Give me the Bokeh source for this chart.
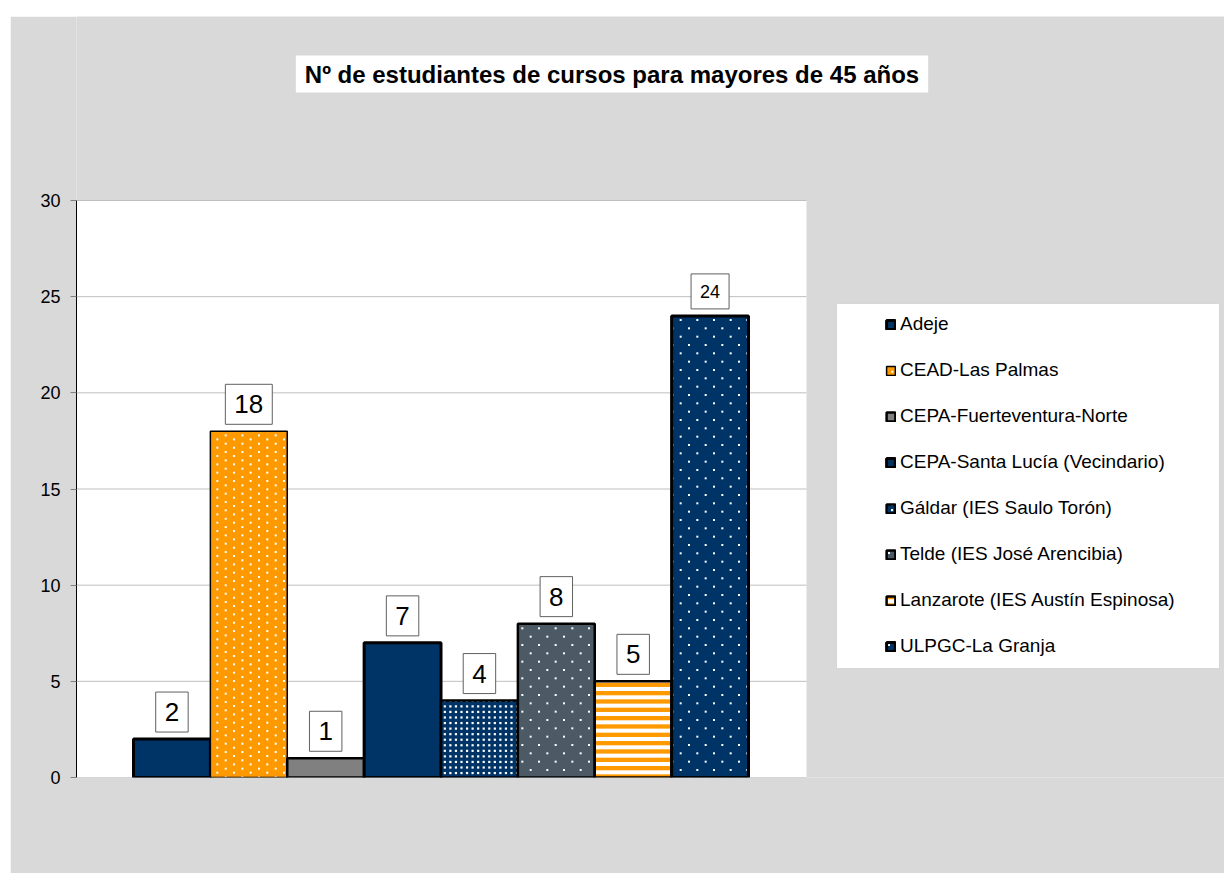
import base64
from bokeh.plotting import figure
from bokeh.models import (ColumnDataSource, Range1d, Legend, LegendItem, Label,
                          BoxAnnotation, FixedTicker, ImageURLTexture)
from bokeh.core.properties import value
from bokeh.embed import file_html
from bokeh.resources import INLINE

# ---------------- data ----------------
title_text = "Nº de estudiantes de cursos para mayores de 45 años"
categories = [
    "Adeje",
    "CEAD-Las Palmas",
    "CEPA-Fuerteventura-Norte",
    "CEPA-Santa Lucía (Vecindario)",
    "Gáldar (IES Saulo Torón)",
    "Telde (IES José Arencibia)",
    "Lanzarote (IES Austín Espinosa)",
    "ULPGC-La Granja",
]
values = [2, 18, 1, 7, 4, 8, 5, 24]
y_ticks = [0, 5, 10, 15, 20, 25, 30]

# ---------------- styles ----------------
FONT = "Liberation Sans"
NAVY = "#003366"
ORANGE = "#FF9900"
SLATE = "#4C5A65"
GRAY = "#808080"
BG = "#D9D9D9"


def svg_tile(w, h, body):
    svg = (f'<svg xmlns="http://www.w3.org/2000/svg" width="{w}" height="{h}" '
           f'viewBox="0 0 {w} {h}">{body}</svg>')
    return "data:image/svg+xml;base64," + base64.b64encode(svg.encode()).decode()


def dots(points, size=2.0, color="white"):
    return "".join(f'<rect x="{x - size / 2:.2f}" y="{y - size / 2:.2f}" width="{size}" '
                   f'height="{size}" fill="{color}"/>' for x, y in points)


P = 50 / 3.0  # period helper (px)
orange_pts = []
for k in range(3):
    for j in range(3):
        orange_pts.append((7.3 + P * k, 6.7 + (P / 2) * j))
        orange_pts.append((15.7 + P * k, 2.7 + (P / 2) * j))
sparse_pts = []
for r in range(6):
    off = 0 if r % 2 == 0 else P / 2
    for k in range(3):
        sparse_pts.append((4 + off + P * k, 4 + (P / 2) * r))
dense_pts = [(1.5 + (50 / 9) * a, 1.5 + (50 / 9) * b) for a in range(9) for b in range(9)]
stripes = "".join(f'<rect x="0" y="{(P / 2) * j:.2f}" width="10" height="4.3" fill="{ORANGE}"/>'
                  for j in range(3))

textures = {
    "orange_dots": ImageURLTexture(url=svg_tile(50, 25, dots(orange_pts)), repetition="repeat"),
    "sparse_dots": ImageURLTexture(url=svg_tile(50, 50, dots(sparse_pts)), repetition="repeat"),
    "dense_dots": ImageURLTexture(url=svg_tile(50, 50, dots(dense_pts, 2.2)), repetition="repeat"),
    "stripes": ImageURLTexture(url=svg_tile(10, 25, stripes), repetition="repeat"),
}

fill_colors = [NAVY, ORANGE, GRAY, NAVY, NAVY, SLATE, "#FFFFFF", NAVY]
hatch_patterns = ["blank", "orange_dots", "blank", "blank", "dense_dots", "sparse_dots",
                  "stripes", "sparse_dots"]
line_widths = [3, 1.5, 2.5, 3, 2.5, 2.5, 2.5, 3]
label_sizes = ["26px"] * 7 + ["18px"]

# ---------------- geometry (pixels) ----------------
W, H = 1214, 857
FRAME_L, FRAME_B = 66, 96           # frame offset in the canvas
FW, FH = W - FRAME_L, H - FRAME_B   # frame size
XU = 615 / 8.0                      # px per bar
YU = 577 / 30.0                     # px per y unit
x_start = -57 / XU
x_end = x_start + FW / XU
area_right = len(values) + 58 / XU
y_end = FH / YU

src = ColumnDataSource(dict(
    x=[i + 0.5 for i in range(len(values))], val=values,
    fill=fill_colors, hp=hatch_patterns, lw=line_widths,
    txt=[str(v) for v in values], fs=label_sizes,
))

p = figure(
    x_range=Range1d(x_start, x_end), y_range=Range1d(0, y_end),
    width=W, height=H, output_backend="svg", toolbar_location=None, title=None,
    min_border_left=FRAME_L, min_border_top=0, min_border_right=0, min_border_bottom=FRAME_B,
    background_fill_color=BG, border_fill_color=BG, outline_line_color=None,
)
p.margin = (16, 0, 0, 10)

# white plot area and grid lines
p.quad(left=x_start, right=area_right, bottom=y_ticks[0], top=y_ticks[-1],
       fill_color="white", line_color=None)
p.segment(x0=x_start, x1=area_right, y0=y_ticks, y1=y_ticks, line_color="#BFBFBF", line_width=1)

r = p.vbar(x="x", top="val", width=1.0, source=src,
           fill_color="fill", line_color="black", line_width="lw",
           hatch_pattern="hp", hatch_extra=textures, hatch_color="white", hatch_alpha=1.0)

# value labels
p.text(x="x", y="val", text="txt", source=src, y_offset=-7,
       text_align="center", text_baseline="bottom",
       text_font=value(FONT), text_font_size="fs", text_color="black",
       background_fill_color="white", border_line_color="#606060", border_line_width=1,
       padding=(9, 11))

# axes
p.xaxis.visible = False
p.xgrid.visible = False
p.ygrid.visible = False
p.yaxis.ticker = FixedTicker(ticks=y_ticks)
p.yaxis.bounds = (y_ticks[0], y_ticks[-1])
p.yaxis.minor_tick_line_color = None
p.yaxis.axis_line_color = "black"
p.yaxis.major_tick_line_color = "#808080"
p.yaxis.major_tick_in = 0
p.yaxis.major_tick_out = 6
p.yaxis.major_label_standoff = 10
p.yaxis.major_label_text_font = FONT
p.yaxis.major_label_text_font_size = "18px"
p.yaxis.major_label_text_color = "black"

# title (centre at page 611.5, 73.5)
p.add_layout(Label(x=x_start + (611.5 - 76) / XU, y=(777 - 73.5) / YU,
                   text=title_text, text_align="center", text_baseline="middle",
                   text_font=FONT, text_font_style="bold", text_font_size="24px",
                   text_color="black", background_fill_color="white", padding=(9, 5)))

# legend box (page 836..1219 x 303..668)
p.add_layout(BoxAnnotation(left=len(values) + (836 - 748) / XU,
                           right=len(values) + (1219 - 748) / XU,
                           bottom=(777 - 668) / YU, top=(777 - 303) / YU,
                           fill_color="white", fill_alpha=1.0,
                           line_color="#A6A6A6", line_width=1))

items = [LegendItem(label=c, renderers=[r], index=i) for i, c in enumerate(categories)]
legend = Legend(items=items, location=(797, 108), padding=12, spacing=24,
                label_height=21, glyph_height=11, glyph_width=11, label_standoff=4,
                label_text_font=FONT, label_text_font_size="19px", label_text_color="black",
                border_line_alpha=0, background_fill_alpha=0, margin=0)
p.add_layout(legend)

open("out.html", "w").write(file_html(p, INLINE))
